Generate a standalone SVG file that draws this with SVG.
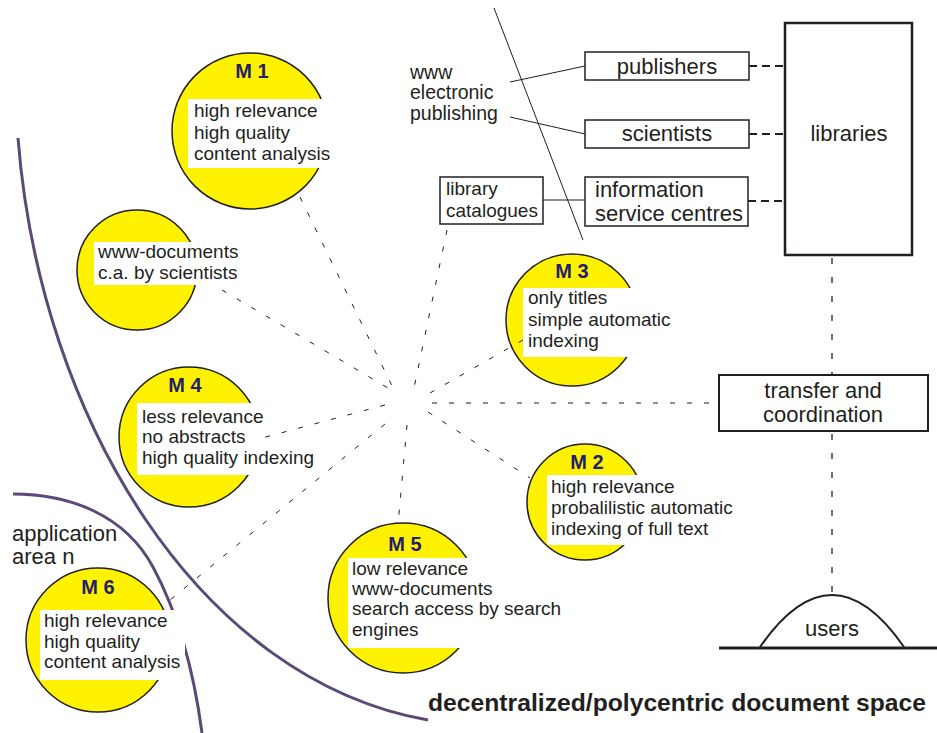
<svg xmlns="http://www.w3.org/2000/svg" width="937" height="733" viewBox="0 0 937 733">
<style>
text{font-family:"Liberation Sans",Arial,sans-serif;fill:#231f20;font-size:19px}
.m{font-weight:bold;fill:#241e6e;font-size:20px;text-anchor:middle}
.b{font-size:22px}
.c{fill:#fff200;stroke:#231f20;stroke-width:1.5}
.tb{fill:#fff}
.box{fill:#fff;stroke:#231f20;stroke-width:1.5}
.hub{fill:none;stroke:#231f20;stroke-width:1;stroke-dasharray:5 12}
.dl{fill:none;stroke:#231f20;stroke-width:2;stroke-dasharray:8 5}
.dv{fill:none;stroke:#231f20;stroke-width:1.3;stroke-dasharray:6 13}
.ln{fill:none;stroke:#231f20;stroke-width:1}
.arc{fill:none;stroke:#5b4a78;stroke-width:3}
.mid{text-anchor:middle}
</style>
<g id="areas">
<path class="arc" d="M18,138 C40,420 200,680 428,720"/>
<path class="arc" d="M13,494 C70,494 125,515 153,567 S195,680 202,733"/>
</g>
<g id="M1">
<circle class="c" cx="250" cy="131" r="78"/>
<rect class="tb" x="188" y="99" width="146" height="69"/>
<text class="m" x="252" y="78">M 1</text>
<text x="194" y="117">high relevance</text>
<text x="194" y="139">high quality</text>
<text x="194" y="160">content analysis</text>
</g>
<g id="Mwww">
<circle class="c" cx="137" cy="270" r="60"/>
<rect class="tb" x="94" y="242" width="150" height="43"/>
<text x="98" y="258">www-documents</text>
<text x="98" y="279">c.a. by scientists</text>
</g>
<g id="M3">
<circle class="c" cx="572" cy="320" r="66"/>
<rect class="tb" x="523" y="288" width="152" height="69"/>
<text class="m" x="572" y="278">M 3</text>
<text x="528" y="304">only titles</text>
<text x="528" y="326">simple automatic</text>
<text x="528" y="347">indexing</text>
</g>
<g id="M4">
<circle class="c" cx="189" cy="437" r="70"/>
<rect class="tb" x="137" y="403" width="180" height="72"/>
<text class="m" x="185" y="392">M 4</text>
<text x="142" y="423">less relevance</text>
<text x="142" y="443">no abstracts</text>
<text x="142" y="464">high quality indexing</text>
</g>
<g id="M2">
<circle class="c" cx="585" cy="502" r="58"/>
<rect class="tb" x="547" y="475" width="192" height="70"/>
<text class="m" x="587" y="469">M 2</text>
<text x="551" y="493">high relevance</text>
<text x="551" y="514">probalilistic automatic</text>
<text x="551" y="535">indexing of full text</text>
</g>
<g id="M5">
<circle class="c" cx="403" cy="598" r="75"/>
<rect class="tb" x="348" y="558" width="218" height="90"/>
<text class="m" x="405" y="551">M 5</text>
<text x="352" y="575">low relevance</text>
<text x="352" y="595">www-documents</text>
<text x="352" y="615">search access by search</text>
<text x="352" y="636">engines</text>
</g>
<g id="M6">
<circle class="c" cx="98" cy="640" r="72"/>
<rect class="tb" x="40" y="610" width="145" height="70"/>
<text class="m" x="98" y="594">M 6</text>
<text x="44" y="627">high relevance</text>
<text x="44" y="648">high quality</text>
<text x="44" y="668">content analysis</text>
</g>
<g id="application-area">
<text class="b" x="12" y="541">application</text>
<text class="b" x="12" y="564">area n</text>
</g>
<g id="www-label">
<text x="410" y="79" style="font-size:19.5px">www</text>
<text x="410" y="99" style="font-size:19.5px">electronic</text>
<text x="410" y="120" style="font-size:19.5px">publishing</text>
</g>
<g id="publishers">
<rect class="box" x="585" y="52" width="164" height="28"/>
<text class="mid b" x="667" y="74">publishers</text>
</g>
<g id="scientists">
<rect class="box" x="585" y="120" width="164" height="28"/>
<text class="mid b" x="667" y="141">scientists</text>
</g>
<g id="information-service-centres">
<rect class="box" x="585" y="177" width="163" height="49"/>
<text class="b" x="595" y="197">information</text>
<text class="b" x="595" y="221">service centres</text>
</g>
<g id="library-catalogues">
<rect class="box" x="440" y="177" width="103" height="47"/>
<text x="446" y="195">library</text>
<text x="446" y="217">catalogues</text>
</g>
<g id="libraries">
<rect x="785" y="23" width="127" height="232" fill="#fff" stroke="#231f20" stroke-width="2.5"/>
<text class="mid b" x="849" y="141">libraries</text>
</g>
<g id="transfer">
<rect x="719" y="375" width="209" height="56" fill="#fff" stroke="#231f20" stroke-width="2"/>
<text class="mid b" x="823" y="398">transfer and</text>
<text class="mid b" x="823" y="422">coordination</text>
</g>
<g id="users">
<path d="M760,647 Q832,543 904,647" fill="none" stroke="#231f20" stroke-width="2"/>
<line x1="719" y1="648" x2="937" y2="648" stroke="#231f20" stroke-width="3"/>
<text class="mid b" x="832" y="636">users</text>
</g>
<g id="connectors">
<line class="ln" x1="494" y1="8" x2="583" y2="240"/>
<line class="ln" x1="510" y1="82" x2="585" y2="66"/>
<line class="ln" x1="510" y1="117" x2="585" y2="134"/>
<line class="ln" x1="543" y1="200" x2="585" y2="200"/>
<line class="dl" x1="749" y1="66" x2="785" y2="66"/>
<line class="dl" x1="749" y1="134" x2="785" y2="134"/>
<line class="dl" x1="748" y1="201" x2="785" y2="201"/>
<line class="dv" x1="832" y1="258" x2="832" y2="375"/>
<line class="dv" x1="832" y1="434" x2="832" y2="595"/>
<line class="hub" x1="300" y1="197" x2="395" y2="392"/>
<line class="hub" x1="222" y1="290" x2="388" y2="388"/>
<line class="hub" x1="447" y1="230" x2="414" y2="388"/>
<line class="hub" x1="523" y1="340" x2="430" y2="393"/>
<line class="hub" x1="432" y1="403" x2="719" y2="403"/>
<line class="hub" x1="428" y1="412" x2="530" y2="478"/>
<line class="hub" x1="407" y1="425" x2="398" y2="525"/>
<line class="hub" x1="385" y1="424" x2="170" y2="600"/>
<line class="hub" x1="385" y1="405" x2="262" y2="438"/>
</g>
<text x="428" y="711" style="font-weight:bold;font-size:24.7px">decentralized/polycentric document space</text>
</svg>
